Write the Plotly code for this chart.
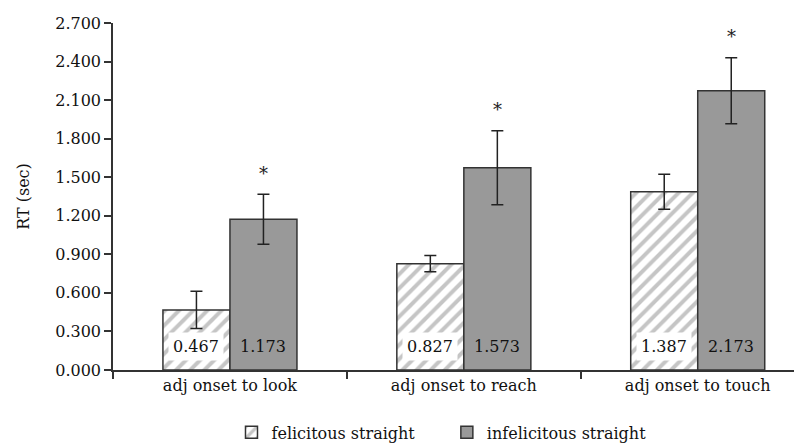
import plotly.graph_objects as go

categories = ["adj onset to look", "adj onset to reach", "adj onset to touch"]
felicitous = [0.467, 0.827, 1.387]
infelicitous = [1.173, 1.573, 2.173]
fel_err = [0.145, 0.063, 0.136]
infel_err = [0.195, 0.288, 0.256]
fel_labels = ["0.467", "0.827", "1.387"]
infel_labels = ["1.173", "1.573", "2.173"]
sig_marks = ["*", "*", "*"]
y_ticks = [0.0, 0.3, 0.6, 0.9, 1.2, 1.5, 1.8, 2.1, 2.4, 2.7]

FONT = "DejaVu Serif"

fig = go.Figure()
fig.add_trace(go.Bar(
    name="felicitous straight", x=categories, y=felicitous, legend="legend",
    marker=dict(color="white", line=dict(color="#333333", width=1.5),
                pattern=dict(shape="/", fgcolor="#8c8c8c", bgcolor="white",
                             size=10, solidity=0.4)),
    error_y=dict(type="data", array=fel_err, color="#222222", thickness=1.5, width=6),
))
fig.add_trace(go.Bar(
    name="infelicitous straight", x=categories, y=infelicitous, legend="legend2",
    marker=dict(color="#999999", line=dict(color="#333333", width=1.5)),
    error_y=dict(type="data", array=infel_err, color="#222222", thickness=1.5, width=6),
))

off = 0.1432
ann = []
for i in range(len(categories)):
    ann.append(dict(x=i - off, y=0.18, xref="x", yref="y", text=fel_labels[i],
                    showarrow=False, bgcolor="white", borderpad=4,
                    font=dict(family=FONT, size=16, color="#111111")))
    ann.append(dict(x=i + off, y=0.18, xref="x", yref="y", text=infel_labels[i],
                    showarrow=False, font=dict(family=FONT, size=16, color="#111111")))
    ann.append(dict(x=i + off, y=infelicitous[i] + infel_err[i], xref="x", yref="y",
                    text=sig_marks[i], showarrow=False, yanchor="middle", yshift=21,
                    font=dict(family=FONT, size=18, color="#222222")))

leg_common = dict(orientation="h", yanchor="middle", y=-0.18,
                  font=dict(family=FONT, size=16), itemwidth=30, bgcolor="rgba(0,0,0,0)")

fig.update_layout(
    width=802, height=446,
    margin=dict(l=105, r=0, t=15, b=84),
    paper_bgcolor="white", plot_bgcolor="white",
    barmode="group", bargap=0.427, bargroupgap=0,
    font=dict(family=FONT, size=16, color="#111111"),
    showlegend=True,
    legend=dict(x=0.17, xanchor="left", **leg_common),
    legend2=dict(x=0.479, xanchor="left", **leg_common),
    annotations=ann,
    xaxis=dict(range=[-0.5, 2.48], showline=True, linecolor="#333333", linewidth=1.5,
               ticks="outside", tickson="boundaries", ticklen=7, tickcolor="#333333",
               tickwidth=1.5, tickfont=dict(family=FONT, size=16), showgrid=False),
    yaxis=dict(range=[0, 2.7], tickvals=y_ticks, tickformat=".3f", showline=True,
               linecolor="#333333", linewidth=1.5, ticks="outside", ticklen=7,
               tickcolor="#333333", tickwidth=1.5, showgrid=False, zeroline=False,
               tickfont=dict(family=FONT, size=16),
               title=dict(text="RT (sec)", font=dict(family=FONT, size=16), standoff=22)),
)

fig.write_html("out.html")
